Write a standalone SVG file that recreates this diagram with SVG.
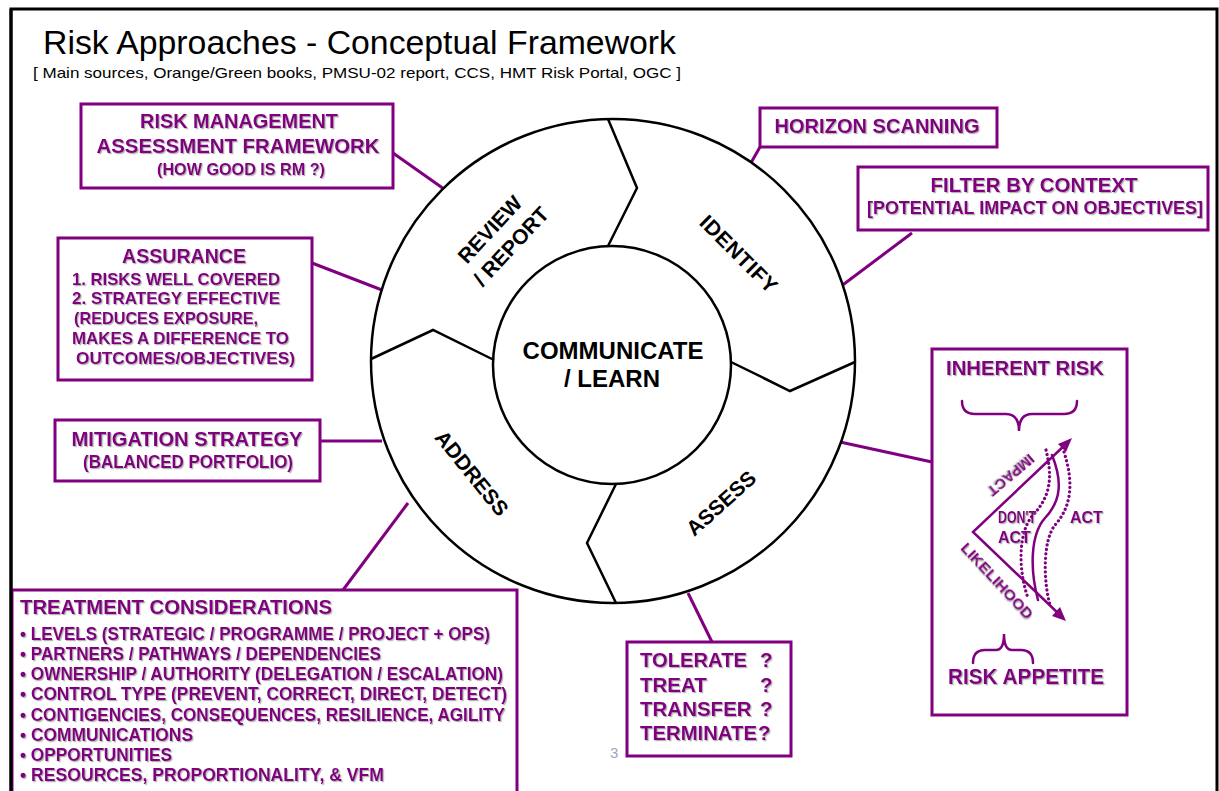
<svg xmlns="http://www.w3.org/2000/svg" width="1219" height="791" viewBox="0 0 1219 791">
  <style>
    .frame { stroke: #000; stroke-width: 3; fill: none; }
    .box { fill: #fff; stroke: #800080; stroke-width: 3; }
    .link { stroke: #800080; stroke-width: 3; fill: none; }
    .ring { fill: #fff; stroke: #000; stroke-width: 2.5; }
    .div { fill: none; stroke: #000; stroke-width: 2.5; stroke-linejoin: miter; }
    .p { font-family: "Liberation Sans", Arial, sans-serif; font-weight: bold; fill: #800080; filter: url(#shade); }
    .k { font-family: "Liberation Sans", Arial, sans-serif; font-weight: bold; fill: #000; }
    .mid { text-anchor: middle; }
    .pl { stroke: #800080; stroke-width: 2.5; fill: none; stroke-linecap: round; }
    .dot { stroke: #800080; stroke-width: 3.2; fill: none; stroke-dasharray: 0.1 4.4; stroke-linecap: round; }
  </style>
  <defs>
    <filter id="shade" x="-5%" y="-20%" width="110%" height="150%">
      <feDropShadow dx="1.2" dy="1.2" stdDeviation="0.6" flood-color="#777" flood-opacity="0.55"/>
    </filter>
  </defs>

  <rect width="1219" height="791" fill="#fff"/>

  <!-- slide border -->
  <path class="frame" d="M11,791 V9 H1217 V791"/>

  <!-- heading -->
  <text x="43" y="54" font-family="'Liberation Sans', Arial, sans-serif" font-size="33" fill="#000" textLength="633" lengthAdjust="spacingAndGlyphs">Risk Approaches - Conceptual Framework</text>
  <text x="33" y="78" font-family="'Liberation Sans', Arial, sans-serif" font-size="15" fill="#000" textLength="648" lengthAdjust="spacingAndGlyphs">[ Main sources, Orange/Green books, PMSU-02 report, CCS, HMT Risk Portal, OGC ]</text>

  <!-- connectors -->
  <g id="connectors">
    <line class="link" x1="393" y1="153" x2="444" y2="189"/>
    <line class="link" x1="312" y1="263" x2="382" y2="290"/>
    <line class="link" x1="320" y1="441" x2="382" y2="441"/>
    <line class="link" x1="343" y1="590" x2="408" y2="503"/>
    <line class="link" x1="760" y1="147" x2="748" y2="168"/>
    <line class="link" x1="912" y1="233" x2="840" y2="287"/>
    <line class="link" x1="932" y1="462" x2="840" y2="442"/>
    <line class="link" x1="712" y1="642" x2="688" y2="593"/>
  </g>

  <!-- risk cycle wheel -->
  <g id="wheel">
    <circle class="ring" cx="613" cy="361" r="242"/>
    <circle class="ring" cx="612" cy="365" r="119"/>
    <polyline class="div" points="608,119 637,188 608,246"/>
    <polyline class="div" points="371,359 433,330 494,360"/>
    <polyline class="div" points="731,362 790,391 855,362"/>
    <polyline class="div" points="616,484 587,543 616,603"/>
    <g transform="translate(501,237) rotate(-47)">
      <text class="k mid" x="-2" y="-6" font-size="21">REVIEW</text>
      <text class="k mid" x="0" y="21" font-size="21">/ REPORT</text>
    </g>
    <text class="k mid" font-size="21" letter-spacing="0.6" transform="translate(739,254) rotate(45)" y="7.5">IDENTIFY</text>
    <text class="k mid" font-size="21" transform="translate(472,473) rotate(51)" y="7.5">ADDRESS</text>
    <text class="k mid" font-size="21" transform="translate(721,503) rotate(-42)" y="7.5">ASSESS</text>
    <text class="k mid" x="613" y="359" font-size="24">COMMUNICATE</text>
    <text class="k mid" x="612" y="387" font-size="24">/ LEARN</text>
  </g>

  <g id="rm-framework">
    <rect class="box" x="81" y="104" width="312" height="84"/>
    <text class="p mid" x="239" y="128" font-size="21" textLength="198" lengthAdjust="spacingAndGlyphs">RISK MANAGEMENT</text>
    <text class="p mid" x="238" y="153" font-size="21" textLength="283" lengthAdjust="spacingAndGlyphs">ASSESSMENT FRAMEWORK</text>
    <text class="p mid" x="241" y="175" font-size="16.5" textLength="168" lengthAdjust="spacingAndGlyphs">(HOW GOOD IS RM ?)</text>
  </g>

  <g id="assurance">
    <rect class="box" x="58" y="238" width="254" height="142"/>
    <text class="p mid" x="184" y="263" font-size="21" textLength="124" lengthAdjust="spacingAndGlyphs">ASSURANCE</text>
    <text class="p" x="72" y="285" font-size="17" textLength="208" lengthAdjust="spacingAndGlyphs">1. RISKS WELL COVERED</text>
    <text class="p" x="72" y="304" font-size="17" textLength="208" lengthAdjust="spacingAndGlyphs">2. STRATEGY EFFECTIVE</text>
    <text class="p" x="74" y="324" font-size="17" textLength="184" lengthAdjust="spacingAndGlyphs">(REDUCES EXPOSURE,</text>
    <text class="p" x="72" y="344" font-size="17" textLength="217" lengthAdjust="spacingAndGlyphs">MAKES A DIFFERENCE TO</text>
    <text class="p" x="76" y="364" font-size="17" textLength="219" lengthAdjust="spacingAndGlyphs">OUTCOMES/OBJECTIVES)</text>
  </g>

  <g id="mitigation">
    <rect class="box" x="55" y="420" width="265" height="61"/>
    <text class="p mid" x="187" y="446" font-size="21" textLength="231" lengthAdjust="spacingAndGlyphs">MITIGATION STRATEGY</text>
    <text class="p mid" x="188" y="468" font-size="17.5" textLength="210" lengthAdjust="spacingAndGlyphs">(BALANCED PORTFOLIO)</text>
  </g>

  <g id="treatment">
    <rect class="box" x="12" y="590" width="505" height="230"/>
    <text class="p" x="20" y="614" font-size="21" textLength="312" lengthAdjust="spacingAndGlyphs">TREATMENT CONSIDERATIONS</text>
    <text class="p" x="20" y="640" font-size="17.5" textLength="470" lengthAdjust="spacingAndGlyphs">• LEVELS (STRATEGIC / PROGRAMME / PROJECT + OPS)</text>
    <text class="p" x="20" y="660" font-size="17.5" textLength="361" lengthAdjust="spacingAndGlyphs">• PARTNERS / PATHWAYS / DEPENDENCIES</text>
    <text class="p" x="20" y="680" font-size="17.5" textLength="483" lengthAdjust="spacingAndGlyphs">• OWNERSHIP / AUTHORITY (DELEGATION / ESCALATION)</text>
    <text class="p" x="20" y="700" font-size="17.5" textLength="487" lengthAdjust="spacingAndGlyphs">• CONTROL TYPE (PREVENT, CORRECT, DIRECT, DETECT)</text>
    <text class="p" x="20" y="721" font-size="17.5" textLength="485" lengthAdjust="spacingAndGlyphs">• CONTIGENCIES, CONSEQUENCES, RESILIENCE, AGILITY</text>
    <text class="p" x="20" y="741" font-size="17.5" textLength="173" lengthAdjust="spacingAndGlyphs">• COMMUNICATIONS</text>
    <text class="p" x="20" y="761" font-size="17.5" textLength="152" lengthAdjust="spacingAndGlyphs">• OPPORTUNITIES</text>
    <text class="p" x="20" y="781" font-size="17.5" textLength="364" lengthAdjust="spacingAndGlyphs">• RESOURCES,  PROPORTIONALITY, &amp; VFM</text>
  </g>

  <g id="horizon">
    <rect class="box" x="760" y="108" width="237" height="39"/>
    <text class="p mid" x="877" y="133" font-size="21" textLength="205" lengthAdjust="spacingAndGlyphs">HORIZON SCANNING</text>
  </g>

  <g id="filter-context">
    <rect class="box" x="858" y="167" width="350" height="63"/>
    <text class="p mid" x="1034" y="192" font-size="21" textLength="207" lengthAdjust="spacingAndGlyphs">FILTER BY CONTEXT</text>
    <text class="p mid" x="1035" y="214" font-size="17.5" textLength="336" lengthAdjust="spacingAndGlyphs">[POTENTIAL IMPACT ON OBJECTIVES]</text>
  </g>

  <g id="inherent-risk">
    <rect class="box" x="932" y="349" width="195" height="366"/>
    <text class="p mid" x="1025" y="375" font-size="21" textLength="158" lengthAdjust="spacingAndGlyphs">INHERENT RISK</text>
    <path class="pl" d="M962,401 Q962,414 975,414 L1006,414 Q1019,414 1019,431 Q1019,414 1032,414 L1064,414 Q1077,414 1077,401"/>
    <!-- impact / likelihood axes -->
    <polyline class="pl" points="1066,444 973,532 1060,615" stroke-linejoin="miter"/>
    <path d="M1072,438 L1058,444 L1066,452 Z" fill="#800080"/>
    <path d="M1066,621 L1052,616 L1060,607 Z" fill="#800080"/>
    <text class="p mid" font-size="15" transform="translate(1011,475) rotate(140)" y="5" textLength="56" lengthAdjust="spacingAndGlyphs">IMPACT</text>
    <text class="p mid" font-size="15.5" transform="translate(997,581) rotate(47)" y="5" textLength="98" lengthAdjust="spacingAndGlyphs">LIKELIHOOD</text>
    <!-- appetite band -->
    <path class="dot" d="M1046,450 C1052,475 1052,495 1033,515 C1018,532 1018,570 1028,598"/>
    <path class="dot" d="M1064,452 C1073,480 1073,505 1055,525 C1043,540 1043,580 1050,605"/>
    <path class="pl" d="M1052,455 C1062,480 1062,500 1045,518 C1030,535 1030,570 1038,600"/>
    <text class="p" x="998" y="523" font-size="16" textLength="38" lengthAdjust="spacingAndGlyphs">DON'T</text>
    <text class="p" x="998" y="543" font-size="16">ACT</text>
    <text class="p" x="1070" y="523" font-size="16">ACT</text>
    <path class="pl" d="M973,663 Q973,650 985,650 L996,650 Q1004,650 1004,634 Q1004,650 1012,650 L1021,650 Q1033,650 1033,663"/>
    <text class="p mid" x="1026" y="684" font-size="21.5" textLength="156" lengthAdjust="spacingAndGlyphs">RISK APPETITE</text>
  </g>

  <g id="responses">
    <rect class="box" x="627" y="642" width="164" height="114"/>
    <text class="p" x="640" y="667" font-size="20.5" textLength="107" lengthAdjust="spacingAndGlyphs">TOLERATE</text>
    <text class="p" x="760" y="667" font-size="20.5">?</text>
    <text class="p" x="640" y="692" font-size="20.5">TREAT</text>
    <text class="p" x="760" y="692" font-size="20.5">?</text>
    <text class="p" x="640" y="716" font-size="20.5">TRANSFER</text>
    <text class="p" x="760" y="716" font-size="20.5">?</text>
    <text class="p" x="640" y="740" font-size="20.5" textLength="117" lengthAdjust="spacingAndGlyphs">TERMINATE</text>
    <text class="p" x="758" y="740" font-size="20.5">?</text>
  </g>

  <!-- slide number -->
  <text x="610" y="758" font-family="'Liberation Sans', Arial, sans-serif" font-size="15" fill="#9aa7bb">3</text>

  <!-- border drawn over the treatment box edge -->
  <line class="frame" x1="11" y1="9" x2="11" y2="791"/>
</svg>
